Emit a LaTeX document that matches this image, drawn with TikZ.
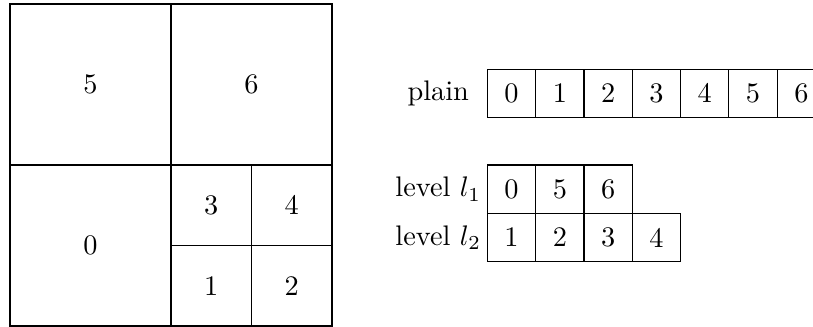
\documentclass[tikz,border=0pt]{standalone}
\begin{document}
\begin{tikzpicture}[
  qcell/.style={draw, line width=0.4pt, inner sep=0pt, outer sep=0pt},
  acell/.style={draw, line width=0.4pt, minimum size=0.6cm, inner sep=0pt, outer sep=0pt},
  lbl/.style={inner sep=0pt}
]
\useasboundingbox (-0.124,-0.012) rectangle (9.975,4.05);
% quadtree
\node[qcell, minimum size=2cm] (q5) at (1,3) {5};
\node[qcell, minimum size=2cm] (q6) at (3,3) {6};
\node[qcell, minimum size=2cm] (q0) at (1,1) {0};
\node[qcell, minimum size=1cm] (q3) at (2.5,1.5) {3};
\node[qcell, minimum size=1cm] (q4) at (3.5,1.5) {4};
\node[qcell, minimum size=1cm] (q1) at (2.5,0.5) {1};
\node[qcell, minimum size=1cm] (q2) at (3.5,0.5) {2};
% plain
\node[lbl] (lp) at (5.32,2.89) {plain};
\foreach \v [count=\i from 0] in {0,...,6}
  \node[acell] (p\i) at ({6.23+0.6*\i},2.89) {\v};
% level l1
\node[lbl] (la) at (5.32,1.7) {level $l_1$};
\foreach \v [count=\i from 0] in {0,5,6}
  \node[acell] (a\i) at ({6.23+0.6*\i},1.7) {\v};
% level l2
\node[lbl] (lb) at (5.32,1.1) {level $l_2$};
\foreach \v [count=\i from 0] in {1,2,3,4}
  \node[acell] (b\i) at ({6.23+0.6*\i},1.1) {\v};
\end{tikzpicture}
\end{document}
